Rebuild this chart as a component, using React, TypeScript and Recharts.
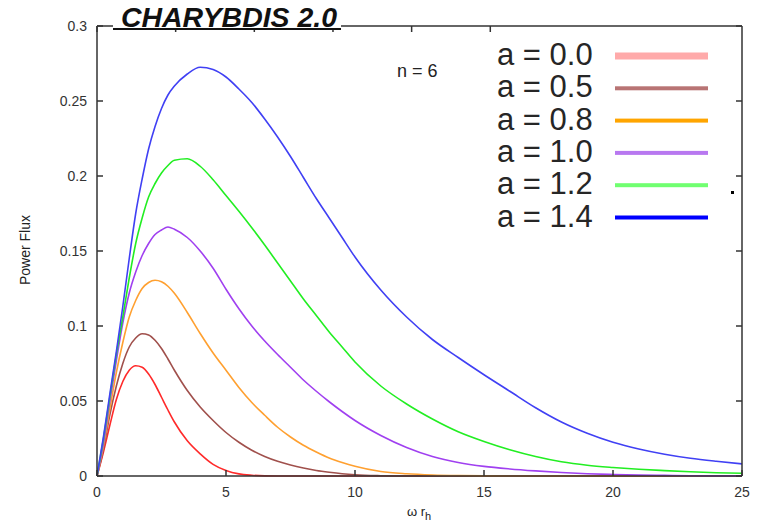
import { LineChart, Line, XAxis, YAxis } from 'recharts'

// omega r_h grid (finer where the curves bend)
const xs = [0, 0.25, 0.5, 0.75, 1, 1.25, 1.5, 1.75, 2, 2.25, 2.5, 2.75, 3, 3.5, 4, 4.5, 5, 5.5, 6, 6.5, 7, 7.5, 8, 8.5, 9, 9.5, 10, 11, 12, 13, 14, 15, 16, 17, 18, 19, 20, 21, 22, 23, 24, 25]

// power flux, one array per rotation parameter a
const fluxA00 = [0, 0.016, 0.034, 0.051, 0.063, 0.0705, 0.0735, 0.0725, 0.068, 0.061, 0.0525, 0.044, 0.036, 0.0235, 0.0148, 0.0078, 0.0037, 0.0014, 0.0005, 0.0001, 0, 0, 0, 0, 0, 0, 0, 0, 0, 0, 0, 0, 0, 0, 0, 0, 0, 0, 0, 0, 0, 0]
const fluxA05 = [0, 0.018, 0.041, 0.06, 0.075, 0.086, 0.092, 0.0948, 0.094, 0.0905, 0.085, 0.078, 0.0705, 0.057, 0.046, 0.037, 0.029, 0.0225, 0.0172, 0.013, 0.0098, 0.0073, 0.0053, 0.0037, 0.0025, 0.0015, 0.0008, 0.0002, 0, 0, 0, 0, 0, 0, 0, 0, 0, 0, 0, 0, 0, 0]
const fluxA08 = [0, 0.02, 0.045, 0.069, 0.089, 0.106, 0.117, 0.125, 0.129, 0.1305, 0.1295, 0.1265, 0.1218, 0.109, 0.095, 0.082, 0.0705, 0.059, 0.049, 0.0405, 0.0325, 0.026, 0.0205, 0.016, 0.012, 0.009, 0.0065, 0.003, 0.0015, 0.0007, 0.0003, 0.0001, 0, 0, 0, 0, 0, 0, 0, 0, 0, 0]
const fluxA10 = [0, 0.022, 0.05, 0.077, 0.102, 0.122, 0.136, 0.147, 0.155, 0.161, 0.164, 0.166, 0.1645, 0.159, 0.15, 0.1385, 0.1245, 0.1115, 0.1, 0.09, 0.081, 0.0725, 0.064, 0.0565, 0.0495, 0.043, 0.037, 0.027, 0.019, 0.013, 0.009, 0.0064, 0.0047, 0.0034, 0.0023, 0.0015, 0.001, 0.0006, 0.0004, 0.0002, 0.0001, 0.0001]
const fluxA12 = [0, 0.025, 0.053, 0.081, 0.106, 0.132, 0.155, 0.172, 0.186, 0.195, 0.202, 0.207, 0.2105, 0.2115, 0.2065, 0.1975, 0.187, 0.1765, 0.1655, 0.154, 0.142, 0.13, 0.118, 0.107, 0.096, 0.086, 0.076, 0.06, 0.048, 0.038, 0.0295, 0.023, 0.0175, 0.013, 0.0095, 0.0072, 0.0057, 0.0045, 0.0036, 0.0028, 0.0022, 0.0018]
const fluxA14 = [0, 0.026, 0.055, 0.083, 0.113, 0.145, 0.175, 0.198, 0.218, 0.233, 0.245, 0.254, 0.26, 0.268, 0.2725, 0.271, 0.266, 0.258, 0.249, 0.238, 0.226, 0.213, 0.199, 0.185, 0.172, 0.159, 0.146, 0.124, 0.106, 0.091, 0.079, 0.0675, 0.0565, 0.0455, 0.036, 0.0285, 0.0225, 0.018, 0.0145, 0.0118, 0.0098, 0.0081]

const xTicks = [0, 5, 10, 15, 20, 25]
const yTicks = [0, 0.05, 0.1, 0.15, 0.2, 0.25, 0.3]

const series = [
  { key: 'a00', label: 'a = 0.0', values: fluxA00, color: '#ff2a2a', legend: '#ffaaaa', lw: 7 },
  { key: 'a05', label: 'a = 0.5', values: fluxA05, color: '#a0504c', legend: '#b87474', lw: 4 },
  { key: 'a08', label: 'a = 0.8', values: fluxA08, color: '#ffa030', legend: '#ffa500', lw: 4 },
  { key: 'a10', label: 'a = 1.0', values: fluxA10, color: '#a040f0', legend: '#b878f0', lw: 4 },
  { key: 'a12', label: 'a = 1.2', values: fluxA12, color: '#22ee22', legend: '#70ff70', lw: 4 },
  { key: 'a14', label: 'a = 1.4', values: fluxA14, color: '#4040f4', legend: '#0000ff', lw: 4 },
]

const data = xs.map((x, i) => {
  const row: Record<string, number> = { x }
  series.forEach(s => { row[s.key] = s.values[i] })
  return row
})

const FONT = '"Liberation Sans", Arial, sans-serif'
const axisColor = '#333'
const TICK = 6

// gnuplot style ticks: short marks pointing into the plot
const BottomTick = (p: any) => (
  <g>
    <line x1={p.x} y1={p.y - 11} x2={p.x} y2={p.y - 11 - TICK} stroke={axisColor} strokeWidth={1.5} />
    <text x={p.x} y={p.y} dy="0.71em" textAnchor="middle" fontSize={14} fill="#333" fontFamily={FONT}>
      {p.payload.value}
    </text>
  </g>
)
const LeftTick = (p: any) => (
  <g>
    <line x1={p.x + 10} y1={p.y} x2={p.x + 10 + TICK} y2={p.y} stroke={axisColor} strokeWidth={1.5} />
    <text x={p.x} y={p.y} dy="0.355em" textAnchor="end" fontSize={14} fill="#333" fontFamily={FONT}>
      {String(p.payload.value)}
    </text>
  </g>
)
const TopTick = (p: any) => (
  <line x1={p.x} y1={p.y} x2={p.x} y2={p.y + TICK} stroke={axisColor} strokeWidth={1.5} />
)
const RightTick = (p: any) => (
  <line x1={p.x} y1={p.y} x2={p.x - TICK} y2={p.y} stroke={axisColor} strokeWidth={1.5} />
)

export default function App() {
  return (
    <div style={{ position: 'absolute', left: 0, top: 0, width: 760, height: 522, background: '#fff' }}>
      <LineChart width={760} height={522} data={data} margin={{ top: 25, right: 17, bottom: 0, left: 0 }}>
        <XAxis dataKey="x" type="number" domain={[0, 25]} ticks={xTicks} height={46}
          stroke={axisColor} strokeWidth={1.5} tickSize={0} tickLine={false} tickMargin={11} tick={BottomTick} />
        <XAxis xAxisId="top" orientation="top" type="number" domain={[0, 25]} allowDataOverflow
          ticks={xTicks} height={1} stroke={axisColor} strokeWidth={1.5} tickSize={0} tickLine={false}
          tickMargin={0} tick={TopTick} />
        <YAxis type="number" domain={[0, 0.3]} ticks={yTicks} width={97}
          stroke={axisColor} strokeWidth={1.5} tickSize={0} tickLine={false} tickMargin={10} tick={LeftTick} />
        <YAxis yAxisId="right" orientation="right" type="number" domain={[0, 0.3]} allowDataOverflow
          ticks={yTicks} width={1} stroke={axisColor} strokeWidth={1.5} tickSize={0} tickLine={false}
          tickMargin={0} tick={RightTick} />
        {series.map(s => (
          <Line key={s.key} dataKey={s.key} type="monotone" stroke={s.color} strokeWidth={1.6}
            dot={false} isAnimationActive={false} />
        ))}
      </LineChart>
      <svg width={760} height={522} style={{ position: 'absolute', left: 0, top: 0, pointerEvents: 'none' }}>
        {/* title box sits over the top border */}
        <rect x={113} y={0} width={228} height={28} fill="#fff" />
        <text x={121} y={26.5} fontFamily={FONT} fontSize={28.5} fontWeight="bold" fontStyle="italic"
          fill="#111" textLength={216} lengthAdjust="spacingAndGlyphs">CHARYBDIS 2.0</text>
        <rect x={113} y={28} width={228} height={2} fill="#111" />

        <text x={397} y={77} fontFamily={FONT} fontSize={18} fill="#222">n = 6</text>

        {series.map((s, i) => {
          const base = 65 + i * 32.3
          return (
            <g key={s.key}>
              <text x={497} y={base} fontFamily={FONT} fontSize={31} fill="#262626">{s.label}</text>
              <rect x={615} y={base - 9 - s.lw / 2} width={93} height={s.lw} fill={s.legend} />
            </g>
          )
        })}
        <rect x={731} y={191} width={3} height={3} fill="#000" />

        <text transform="translate(30,250) rotate(-90)" textAnchor="middle" fontFamily={FONT}
          fontSize={14} fill="#222">Power Flux</text>
        <text x={407} y={516} fontFamily={FONT} fontSize={13} fill="#222">
          ω r<tspan dy={4} fontSize={11}>h</tspan>
        </text>
      </svg>
    </div>
  )
}
